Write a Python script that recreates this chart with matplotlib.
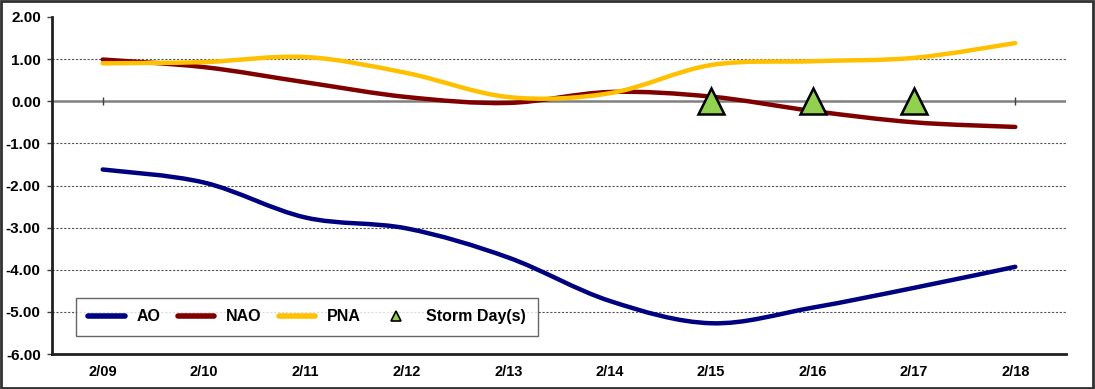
import matplotlib
matplotlib.use("Agg")
import matplotlib.pyplot as plt
from matplotlib.lines import Line2D
from matplotlib.path import Path
from matplotlib.patches import PathPatch, Rectangle
import numpy as np

plt.rcParams['font.family'] = ['Liberation Sans', 'DejaVu Sans']
plt.rcParams['font.weight'] = 'bold'

dates = ['2/09', '2/10', '2/11', '2/12', '2/13', '2/14', '2/15', '2/16', '2/17', '2/18']
ao = [-1.62, -1.93, -2.76, -3.02, -3.71, -4.74, -5.27, -4.90, -4.43, -3.93]
nao = [0.99, 0.81, 0.45, 0.10, -0.04, 0.22, 0.11, -0.23, -0.50, -0.61]
pna = [0.90, 0.93, 1.05, 0.67, 0.10, 0.19, 0.86, 0.95, 1.03, 1.38]
storm_days = ['2/15', '2/16', '2/17']
storm_vals = [0.0, 0.0, 0.0]


def smooth_path(xs, ys):
    # excel-style smoothed line: cubic bezier with catmull-rom control points
    pts = np.column_stack([xs, ys]).astype(float)
    n = len(pts)
    verts = [pts[0]]
    codes = [Path.MOVETO]
    for i in range(n - 1):
        p0 = pts[max(i - 1, 0)]
        p1 = pts[i]
        p2 = pts[i + 1]
        p3 = pts[min(i + 2, n - 1)]
        verts += [p1 + (p2 - p0) / 6, p2 - (p3 - p1) / 6, p2]
        codes += [Path.CURVE4] * 3
    return Path(verts, codes)


fig = plt.figure(figsize=(10.95, 3.89), dpi=100)
ax = fig.add_axes([52 / 1095, 35 / 389, 1014 / 1095, 337 / 389])

x = np.arange(len(dates))
series = [('AO', ao, '#000080'), ('NAO', nao, '#800000'), ('PNA', pna, '#FFC000')]
for name, vals, col in series:
    ax.add_patch(PathPatch(smooth_path(x, vals), facecolor='none', edgecolor=col,
                           lw=3.2, capstyle='round', joinstyle='round', zorder=3))

sx = [dates.index(d) for d in storm_days]
ax.plot(sx, storm_vals, ls='none', marker='^', markersize=19, markerfacecolor='#92D050',
        markeredgecolor='black', markeredgewidth=1.8, zorder=4)

ax.set_xlim(-0.5, len(dates) - 0.5)
ax.set_ylim(-6, 2)
yt = np.arange(-6, 2.01, 1)
ax.set_yticks(yt)
ax.set_yticklabels(['%.2f' % v for v in yt], fontsize=11, fontweight='bold')
ax.set_xticks(x)
ax.set_xticklabels(dates, fontsize=10.5, fontweight='bold')
ax.tick_params(axis='x', length=0, pad=8)
ax.tick_params(axis='y', length=3.6, width=1, direction='out', pad=4.5, color='#404040')

for v in yt:
    if -6 < v < 2 and v != 0:
        ax.axhline(v, color='#555555', lw=0.8, ls=(0, (2, 1.5)), zorder=1)
ax.axhline(0, color='#808080', lw=1.8, zorder=2)
# tick marks on the zero axis
ax.plot(x[[0, -1]], [0, 0], ls='none', marker='|', markersize=6, color='#404040', zorder=2)

for s in ['top', 'right']:
    ax.spines[s].set_visible(False)
ax.spines['left'].set_linewidth(2)
ax.spines['bottom'].set_linewidth(2)
ax.spines['left'].set_color('#202020')
ax.spines['bottom'].set_color('#202020')

handles = [Line2D([], [], color=c, lw=4, solid_capstyle='round') for _, _, c in series]
handles.append(Line2D([], [], ls='none', marker='^', markersize=7, markerfacecolor='#92D050',
                      markeredgecolor='black', markeredgewidth=1.2))
labels = [s[0] for s in series] + ['Storm Day(s)']
leg = ax.legend(handles, labels, ncol=4, loc='lower left', bbox_to_anchor=(0.024, 0.052),
                fontsize=11.5, frameon=True, fancybox=False, handlelength=2.3,
                columnspacing=1.1, handletextpad=0.7, borderpad=0.75, borderaxespad=0)
leg.get_frame().set_edgecolor('#404040')
leg.get_frame().set_linewidth(1)
for t in leg.get_texts():
    t.set_fontweight('bold')

fig.patches.append(Rectangle((0.001, 0.002), 0.997, 0.995, transform=fig.transFigure,
                             fill=False, edgecolor='#303030', lw=2))

fig.savefig('out.png', dpi=100)
